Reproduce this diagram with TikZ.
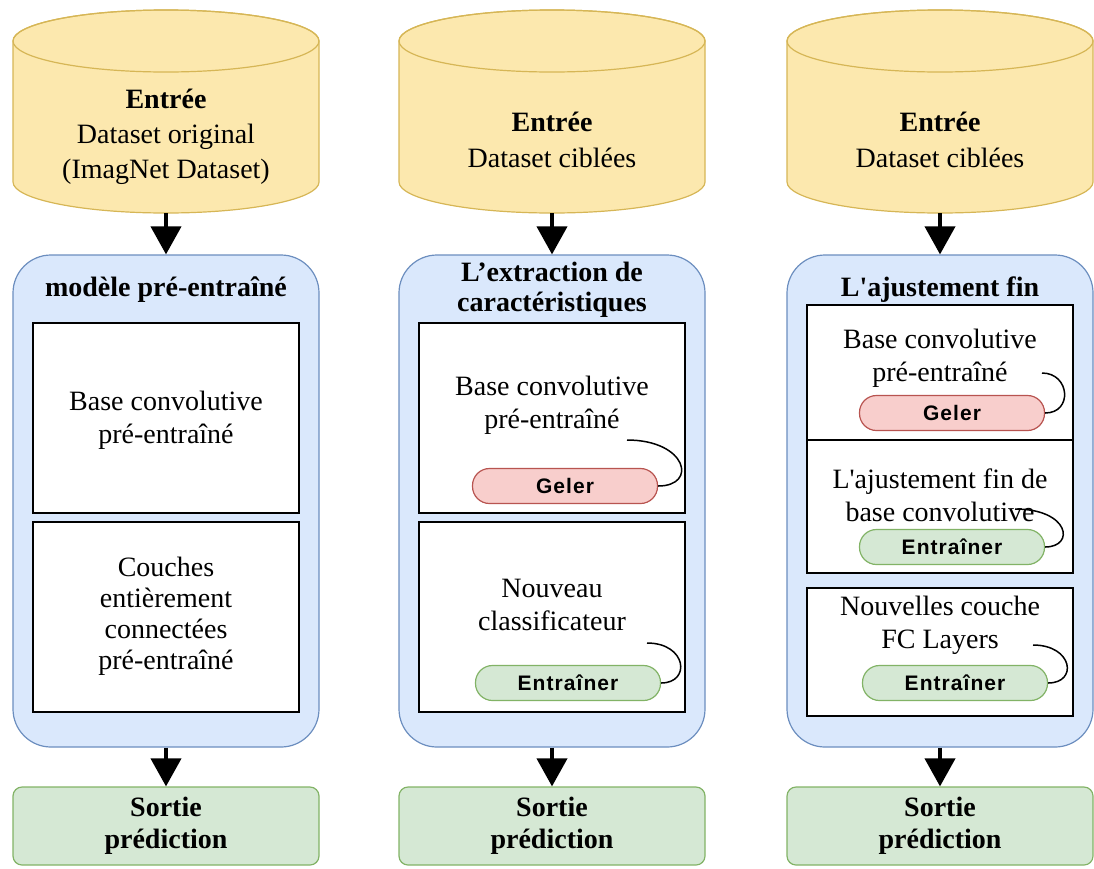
\documentclass[tikz,border=0pt]{standalone}
\usepackage{fontspec}
\setmainfont{Liberation Serif}[Ligatures=TeXOff]
\newfontfamily\pillfont[LetterSpace=5]{Liberation Sans}
\usetikzlibrary{arrows.meta}

\definecolor{cylfill}{HTML}{FCE8AE}
\definecolor{cylline}{HTML}{D6B656}
\definecolor{bluefill}{HTML}{DAE8FC}
\definecolor{blueline}{HTML}{6C8EBF}
\definecolor{greenfill}{HTML}{D5E8D4}
\definecolor{greenline}{HTML}{82B366}
\definecolor{redfill}{HTML}{F8CECC}
\definecolor{redline}{HTML}{B85450}

\tikzset{
  panel/.style={draw=blueline, fill=bluefill, line width=1.2pt, rounded corners=38pt,
    minimum width=306pt, minimum height=492pt, inner sep=0pt},
  layer/.style={draw=black, fill=white, line width=1.5pt, minimum width=266pt, inner sep=0pt},
  label/.style={font=\fontsize{28}{33}\selectfont, align=center, inner sep=0pt},
  title/.style={font=\fontsize{28}{30}\selectfont\bfseries, align=center, inner sep=0pt},
  pill/.style={rounded corners=17pt, minimum width=185pt, minimum height=35pt, line width=1.2pt,
    font=\pillfont\bfseries\fontsize{21}{24}\selectfont, inner sep=0pt},
  freeze/.style={pill, draw=redline, fill=redfill},
  train/.style={pill, draw=greenline, fill=greenfill},
  result/.style={draw=greenline, fill=greenfill, rounded corners=9pt, line width=1.2pt,
    minimum width=306pt, minimum height=78pt, inner sep=0pt,
    font=\fontsize{28}{32}\selectfont\bfseries, align=center},
  flow/.style={line width=4pt, -{Triangle[length=28pt,width=30pt]}},
  link/.style={line width=1.5pt},
  store/.style={draw=cylline, fill=cylfill, line width=1.2pt}
}

% database cylinder centred at x = #1
\newcommand{\drawstore}[1]{%
  \path[store] (#1-153,41) -- (#1-153,182)
    arc[start angle=180, end angle=0, x radius=153, y radius=31]
    -- (#1+153,41)
    arc[start angle=0, end angle=-180, x radius=153, y radius=31] -- cycle;
  \draw[cylline, line width=1.2pt] (#1,41) ellipse[x radius=153, y radius=31];
}

\begin{document}
\begin{tikzpicture}[x=1pt, y=-1pt]
\useasboundingbox (0,0) rectangle (1094,868);

% ---------- inputs ----------
\drawstore{166}
\drawstore{552}
\drawstore{940}
\coordinate (d1) at (166,213);
\coordinate (d2) at (552,213);
\coordinate (d3) at (940,213);
\node[label, font=\fontsize{28}{35}\selectfont] (in1) at (166,137)
  {\textbf{Entrée}\\Dataset original\\(ImagNet Dataset)};
\node[label, font=\fontsize{28}{36}\selectfont] (in2) at (552,140) {\textbf{Entrée}\\Dataset ciblées};
\node[label, font=\fontsize{28}{36}\selectfont] (in3) at (940,140) {\textbf{Entrée}\\Dataset ciblées};

% ---------- panels ----------
\node[panel] (b1) at (166,501) {};
\node[panel] (b2) at (552,501) {};
\node[panel] (b3) at (940,501) {};

\node[title] (t1) at (166,290) {modèle pré-entraîné};
\node[title] (t2) at (552,290) {L’extraction de\\caractéristiques};
\node[title] (t3) at (940,290) {L'ajustement fin};

% column 1: pre-trained model
\node[layer, minimum height=190pt] (l11) at (166,418) {};
\node[layer, minimum height=190pt] (l12) at (166,617) {};
\node[label] (x11) at (166,420) {Base convolutive\\pré-entraîné};
\node[label, font=\fontsize{28}{31}\selectfont] (x12) at (166,616)
  {Couches\\entièrement\\connectées\\pré-entraîné};

% column 2: feature extraction
\node[layer, minimum height=190pt] (l21) at (552,418) {};
\node[layer, minimum height=190pt] (l22) at (552,617) {};
\node[label] (x21) at (552,405) {Base convolutive\\pré-entraîné};
\node[label] (x22) at (552,605) {Nouveau\\classificateur};
\node[freeze] (g2) at (565,486) {Geler};
\node[train] (e2) at (568,683) {Entraîner};
\coordinate (g2s) at (627,440);
\coordinate (e2s) at (647,643);
\draw[link] (g2s) .. controls +(60,0) and +(40,0) .. (g2.east);
\draw[link] (e2s) .. controls +(40,0) and +(30,0) .. (e2.east);

% column 3: fine tuning
\node[layer, minimum height=135pt] (l31) at (940,372.5) {};
\node[layer, minimum height=133pt] (l32) at (940,506.5) {};
\node[layer, minimum height=128pt] (l33) at (940,652) {};
\node[label] (x31) at (940,358) {Base convolutive\\pré-entraîné};
\node[label] (x32) at (940,495) {L'ajustement fin de\\base convolutive};
\node[label] (x33) at (940,625) {Nouvelles couche\\FC Layers};
\node[freeze] (g3) at (952,413) {Geler};
\node[train] (e3a) at (952,547) {Entraîner};
\node[train] (e3b) at (955,683) {Entraîner};
\coordinate (g3s) at (1042,373);
\coordinate (e3as) at (1015,509);
\coordinate (e3bs) at (1033,645);
\draw[link] (g3s) .. controls +(28,0) and +(28,0) .. (g3.east);
\draw[link] (e3as) .. controls +(55,0) and +(30,0) .. (e3a.east);
\draw[link] (e3bs) .. controls +(40,0) and +(30,0) .. (e3b.east);

% ---------- outputs ----------
\node[result] (s1) at (166,826) {Sortie\\prédiction};
\node[result] (s2) at (552,826) {Sortie\\prédiction};
\node[result] (s3) at (940,826) {Sortie\\prédiction};

% ---------- flow arrows ----------
\draw[flow] (d1) -- (b1.north);
\draw[flow] (d2) -- (b2.north);
\draw[flow] (d3) -- (b3.north);
\draw[flow] (b1) -- (s1);
\draw[flow] (b2) -- (s2);
\draw[flow] (b3) -- (s3);
\end{tikzpicture}
\end{document}
